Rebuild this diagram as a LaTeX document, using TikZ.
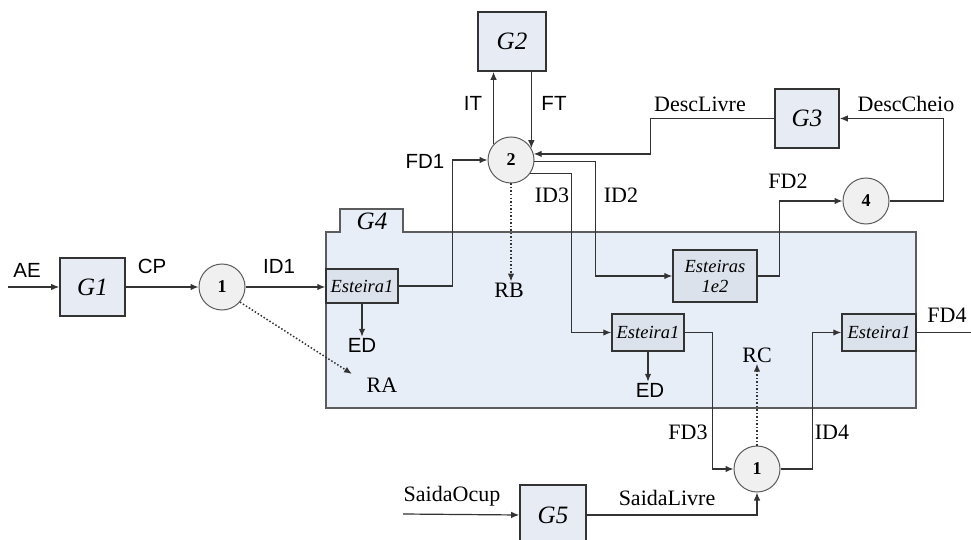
\documentclass[tikz,border=0pt]{standalone}
\usepackage{fontspec}
\setmainfont{Liberation Serif}
\setsansfont{Liberation Sans}
\usepackage{tikz}
\usetikzlibrary{arrows.meta,positioning}

\definecolor{boxfill}{HTML}{E6EBF4}
\definecolor{beltfill}{HTML}{DCE2EC}
\definecolor{areafill}{HTML}{E8EEF8}
\definecolor{linec}{HTML}{333333}

\begin{document}
\begin{tikzpicture}[
    x=1pt, y=-1pt,
    box/.style={rectangle, draw=linec, line width=1.6pt, fill=boxfill, inner sep=0pt, align=center, font=\fontsize{25}{28}\selectfont\itshape},
    belt/.style={rectangle, draw=linec, line width=1.5pt, fill=beltfill, inner sep=0pt, align=center, font=\fontsize{18.5}{20}\selectfont\itshape},
    mix/.style={circle, draw=linec!80, line width=1pt, fill=gray!12, minimum size=46pt, inner sep=0pt, font=\fontsize{18}{20}\selectfont\bfseries},
    lab/.style={inner sep=1pt, font=\fontsize{22}{24}\selectfont},
    slab/.style={inner sep=1pt, font=\fontsize{20.5}{23}\selectfont\sffamily},
    arrow/.style={-{Latex[length=8pt,width=6.5pt]}, line width=1.2pt, draw=linec},
    dotarrow/.style={arrow, line width=1.5pt, dotted}
]
    \clip (0,0) rectangle (971,540);
    \fill[white] (0,0) rectangle (971,540);

    % Area G4
    \draw[line width=1.4pt, draw=linec!80, fill=areafill]
        (326,408) -- (326,232) -- (340,232) -- (340,209) -- (403,209)
        -- (403,232) -- (916,232) -- (916,408) -- cycle;
    \node[font=\fontsize{25}{28}\selectfont\itshape] (g4) at (372,221) {G4};

    % Blocks
    \node[box, minimum width=65pt, minimum height=58pt] (g1) at (92.5,287) {G1};
    \node[box, minimum width=68pt, minimum height=59pt] (g2) at (512,41.5) {G2};
    \node[box, minimum width=64pt, minimum height=59pt] (g3) at (807,118.5) {G3};
    \node[box, minimum width=66pt, minimum height=60pt] (g5) at (553,515) {G5};

    % Junctions
    \node[mix] (mix1) at (222,287) {1};
    \node[mix] (mix2) at (511,160) {2};
    \node[mix] (mix4) at (866,201) {4};
    \node[mix] (mix5) at (757,469) {1};

    % Belts
    \node[belt, minimum width=72pt, minimum height=34pt] (belt1) at (362,286) {Esteira1};
    \node[belt, minimum width=84pt, minimum height=52pt] (belt12) at (715,276) {Esteiras\\1e2};
    \node[belt, minimum width=72pt, minimum height=37pt] (belt2) at (648,332.5) {Esteira1};
    \node[belt, minimum width=74pt, minimum height=37pt] (belt3) at (879,332.5) {Esteira1};

    % Labels
    \node[slab] (lae) at (27,270) {AE};
    \node[slab] (lcp) at (152,266) {CP};
    \node[slab] (lid1) at (279,266) {ID1};
    \node[slab] (lfd1) at (425,161) {FD1};
    \node[slab] (lit) at (473,103) {IT};
    \node[slab] (lft) at (554,103) {FT};
    \node[lab] (ldl) at (700,104) {DescLivre};
    \node[lab] (ldc) at (906,104) {DescCheio};
    \node[lab] (lfd2) at (788,181) {FD2};
    \node[lab] (lid3) at (552,195) {ID3};
    \node[lab] (lid2) at (621,195) {ID2};
    \node[lab] (lrb) at (509,290) {RB};
    \node[slab] (led1) at (362,345) {ED};
    \node[lab] (lra) at (382,385) {RA};
    \node[slab] (led2) at (650,390) {ED};
    \node[lab] (lrc) at (757,355) {RC};
    \node[lab] (lfd3) at (688,432) {FD3};
    \node[lab] (lid4) at (832,432) {ID4};
    \node[lab] (lfd4) at (947,315) {FD4};
    \node[lab] (lso) at (452,496) {SaidaOcup};
    \node[lab] (lsl) at (667,498) {SaidaLivre};

    % Free ends
    \coordinate (ae) at (8,287);
    \coordinate (so) at (403,514);
    \coordinate (fd4) at (971,332.5);
    \coordinate (ra) at (352,374);

    % Arrows
    \draw[arrow] (ae) -- (g1.west);
    \draw[arrow] (g1.east) -- (mix1.west);
    \draw[arrow] (mix1.east) -- (mix1.east -| belt1.west);
    \draw[arrow] (belt1.east) -- ++(54,0) |- (mix2.west);
    \draw[arrow] (belt1.south) -- (belt1.south |- led1.north);
    \draw[dotarrow] (mix1.-40) -- (ra);
    \draw[dotarrow] (mix2.south) -- (mix2.south |- lrb.north);
    \draw[arrow] (mix2.138) -- (mix2.138 |- g2.south);
    \draw[arrow] (mix2.30 |- g2.south) -- (mix2.30);
    \draw[arrow] (g3.west) -- ++(-124,0) |- (mix2.15);
    \draw[arrow] (mix2.-3) -| ([xshift=-77pt]belt12.west) -- (belt12.west);
    \draw[arrow] (mix2.-35) -| ([xshift=-40pt]belt2.west) -- (belt2.west);
    \draw[arrow] (belt12.east) -- ++(22,0) |- (mix4.west);
    \draw[arrow] (mix4.east) -- ++(54,0) |- (g3.east);
    \draw[arrow] (belt2.south) -- (belt2.south |- led2.north);
    \draw[arrow] (belt2.east) -- ++(28,0) |- (mix5.west);
    \draw[arrow] (mix5.east) -- ++(32,0) |- (belt3.west);
    \draw[line width=1.2pt, draw=linec] (belt3.east) -- (fd4);
    \draw[dotarrow] (mix5.north) -- (lrc.south);
    \draw[arrow] (so) -- (g5.west);
    \draw[arrow] (g5.east) -| (mix5.south);

\end{tikzpicture}
\end{document}
